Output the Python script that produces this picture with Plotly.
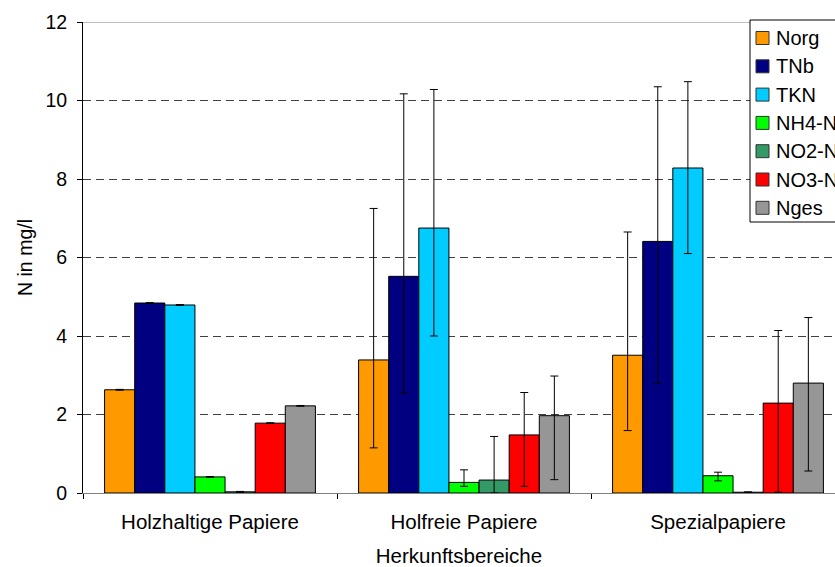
import plotly.graph_objects as go

# Herkunftsbereiche (paper origin groups)
categories = ["Holzhaltige Papiere", "Holfreie Papiere", "Spezialpapiere"]

# Nitrogen parameters, bar colours
series_names = ["Norg", "TNb", "TKN", "NH4-N", "NO2-N", "NO3-N", "Nges"]
series_colors = ["#FF9900", "#000080", "#00CCFF", "#00FF00", "#339966", "#FF0000", "#969696"]

# Mean values in mg/l per group
norg = [2.63, 3.39, 3.51]
tnb = [4.84, 5.52, 6.41]
tkn = [4.79, 6.75, 8.28]
nh4 = [0.41, 0.27, 0.44]
no2 = [0.03, 0.33, 0.02]
no3 = [1.78, 1.48, 2.29]
nges = [2.22, 1.97, 2.80]

# Upper / lower ends of the error bars (mg/l)
norg_hi = [2.64, 7.25, 6.65]
norg_lo = [2.62, 1.15, 1.59]
tnb_hi = [4.85, 10.17, 10.35]
tnb_lo = [4.83, 2.54, 2.81]
tkn_hi = [4.80, 10.28, 10.48]
tkn_lo = [4.78, 4.00, 6.10]
nh4_hi = [0.42, 0.59, 0.53]
nh4_lo = [0.40, 0.17, 0.31]
no2_hi = [0.04, 1.44, 0.03]
no2_lo = [0.02, 0.00, 0.01]
no3_hi = [1.79, 2.56, 4.14]
no3_lo = [1.77, 0.17, 0.02]
nges_hi = [2.23, 2.98, 4.47]
nges_lo = [2.21, 0.34, 0.56]

y_ticks = [0, 2, 4, 6, 8, 10, 12]

values = [norg, tnb, tkn, nh4, no2, no3, nges]
highs = [norg_hi, tnb_hi, tkn_hi, nh4_hi, no2_hi, no3_hi, nges_hi]
lows = [norg_lo, tnb_lo, tkn_lo, nh4_lo, no2_lo, no3_lo, nges_lo]

FONT = "Arial, Liberation Sans, sans-serif"

# figure / plot-area geometry in pixels
W, H = 835, 567
ML, MT, MB = 83, 22, 74
PW, PH = W - ML, H - MT - MB


def px_x(px):
    return (px - ML) / PW


def px_y(py):
    return (H - MB - py) / PH


fig = go.Figure()
for name, color, v, hi, lo in zip(series_names, series_colors, values, highs, lows):
    fig.add_trace(go.Bar(
        name=name,
        x=categories,
        y=v,
        marker=dict(color=color, line=dict(color="#000000", width=1)),
        error_y=dict(
            type="data",
            symmetric=False,
            array=[h - m for h, m in zip(hi, v)],
            arrayminus=[m - l for m, l in zip(v, lo)],
            color="#000000",
            thickness=1,
            width=4,
        ),
        showlegend=False,
    ))

# solid top border of the plotting area
fig.add_shape(type="line", xref="paper", yref="y", x0=0, x1=1, y0=12, y1=12,
              line=dict(color="#808080", width=1))

# legend box, running off the right edge of the figure
box_left, box_top, box_bottom = 750, 20, 222
fig.add_shape(type="rect", xref="paper", yref="paper",
              x0=px_x(box_left), x1=px_x(W + 20), y0=px_y(box_bottom), y1=px_y(box_top),
              line=dict(color="#000000", width=1), fillcolor="#FFFFFF", layer="above")

row0, row_step = 38, 28.3
for i, (name, color) in enumerate(zip(series_names, series_colors)):
    cy = row0 + i * row_step
    fig.add_shape(type="rect", xref="paper", yref="paper",
                  x0=px_x(756), x1=px_x(769), y0=px_y(cy + 6.5), y1=px_y(cy - 6.5),
                  line=dict(color="#333333", width=1), fillcolor=color, layer="above")
    fig.add_annotation(xref="paper", yref="paper", x=px_x(774), y=px_y(cy),
                       xanchor="left", yanchor="middle", text=name, showarrow=False,
                       font=dict(family=FONT, size=20, color="#000000"))

fig.update_layout(
    width=W,
    height=H,
    barmode="group",
    bargap=0.17,
    bargroupgap=0,
    plot_bgcolor="#FFFFFF",
    paper_bgcolor="#FFFFFF",
    margin=dict(l=ML, r=0, t=MT, b=MB),
    font=dict(family=FONT, size=19.5, color="#000000"),
    showlegend=False,
    xaxis=dict(
        range=[-0.5, -0.5 + PW / 254.0],
        showline=True,
        linecolor="#808080",
        linewidth=1,
        ticks="outside",
        tickson="boundaries",
        ticklen=5,
        tickcolor="#000000",
        ticklabelstandoff=10,
        tickfont=dict(family=FONT, size=20.5),
        title=dict(text="Herkunftsbereiche", font=dict(family=FONT, size=20.5), standoff=18),
        showgrid=False,
        zeroline=False,
    ),
    yaxis=dict(
        range=[0, 12],
        tickvals=y_ticks,
        showline=True,
        linecolor="#000000",
        linewidth=1,
        ticks="outside",
        ticklen=5,
        tickcolor="#000000",
        ticklabelstandoff=6,
        tickfont=dict(family=FONT, size=19.5),
        showgrid=True,
        gridcolor="#404040",
        griddash="8px,5px",
        gridwidth=1,
        zeroline=False,
        title=dict(text="N in mg/l", font=dict(family=FONT, size=19.5), standoff=7),
    ),
)

fig.write_html("out.html")
